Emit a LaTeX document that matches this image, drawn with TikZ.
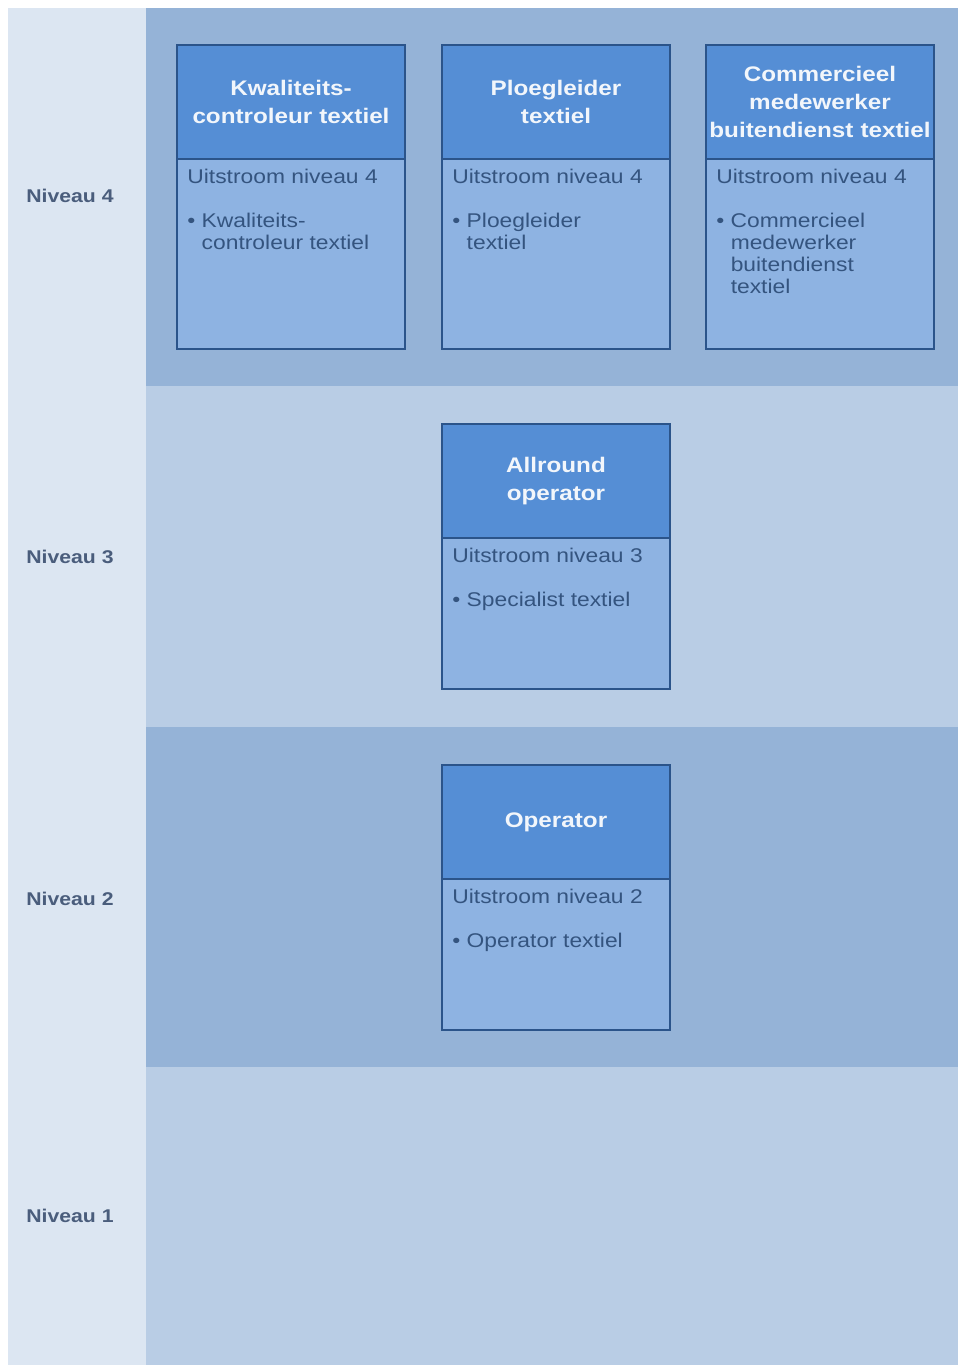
\documentclass[tikz,border=0pt]{standalone}
\usepackage{fontspec}
\setmainfont{Liberation Sans}[FakeStretch=1.15]
\usetikzlibrary{positioning}
\definecolor{zijkant}{HTML}{DCE6F2}
\definecolor{banddonker}{HTML}{95B3D7}
\definecolor{bandlicht}{HTML}{B9CDE5}
\definecolor{kopblauw}{HTML}{558ED5}
\definecolor{rompblauw}{HTML}{8EB3E2}
\definecolor{randblauw}{HTML}{2B548A}
\definecolor{koptekst}{HTML}{F2F6FB}
\definecolor{romptekst}{HTML}{34547F}
\definecolor{niveautekst}{HTML}{4A5D7C}
\tikzstyle{kop} = [rectangle, minimum width=4.56cm, minimum height=2.28cm, text width=4.5cm, inner xsep=0.03cm, align=center, draw=randblauw, line width=1.1pt, fill=kopblauw, text=koptekst, font=\fontsize{12}{16}\selectfont\bfseries]
\tikzstyle{romp} = [rectangle, minimum width=4.56cm, minimum height=3.8cm, draw=randblauw, line width=1.1pt, fill=rompblauw]
\tikzstyle{rompkort} = [romp, minimum height=3.02cm]
\tikzstyle{inhoud} = [anchor=north west, inner sep=0pt, align=left, xshift=0.22cm, yshift=-0.21cm, text=romptekst, font=\fontsize{11.3}{12.5}\selectfont]
\tikzstyle{niveau} = [anchor=west, inner sep=0pt, text=niveautekst, font=\fontsize{10.5}{12}\selectfont\bfseries]
\newcommand{\opsom}[1]{\textbullet\ \parbox[t]{3.9cm}{#1}}

\begin{document}
\begin{tikzpicture}[x=0.02cm, y=-0.02cm]
\useasboundingbox (0,0) rectangle (958,1365);

% achtergrond
\fill[zijkant] (8,8) rectangle (146,1365);
\fill[banddonker] (146,8) rectangle (958,386);
\fill[bandlicht] (146,386) rectangle (958,727);
\fill[banddonker] (146,727) rectangle (958,1067);
\fill[bandlicht] (146,1067) rectangle (958,1365);

\node (n4) [niveau] at (26,196) {Niveau 4};
\node (n3) [niveau] at (26,557) {Niveau 3};
\node (n2) [niveau] at (26,899) {Niveau 2};
\node (n1) [niveau] at (26,1216) {Niveau 1};

% niveau 4
\node (kwal) [kop] at (291,102) {Kwaliteits-\\controleur textiel};
\node (kwalromp) [romp, below=-1.1pt of kwal] {};
\node (kwaltekst) [inhoud] at (kwalromp.north west) {Uitstroom niveau 4\\[12.5pt]\opsom{Kwaliteits-\\controleur textiel}};

\node (ploeg) [kop] at (556,102) {Ploegleider\\textiel};
\node (ploegromp) [romp, below=-1.1pt of ploeg] {};
\node (ploegtekst) [inhoud] at (ploegromp.north west) {Uitstroom niveau 4\\[12.5pt]\opsom{Ploegleider\\textiel}};

\node (comm) [kop] at (820,102) {Commercieel\\medewerker\\buitendienst textiel};
\node (commromp) [romp, below=-1.1pt of comm] {};
\node (commtekst) [inhoud] at (commromp.north west) {Uitstroom niveau 4\\[12.5pt]\opsom{Commercieel\\medewerker\\buitendienst\\textiel}};

% niveau 3
\node (allround) [kop] at (556,481) {Allround\\operator};
\node (allromp) [rompkort, below=-1.1pt of allround] {};
\node (alltekst) [inhoud] at (allromp.north west) {Uitstroom niveau 3\\[12.5pt]\opsom{Specialist textiel}};

% niveau 2
\node (oper) [kop] at (556,822) {Operator};
\node (operromp) [rompkort, below=-1.1pt of oper] {};
\node (opertekst) [inhoud] at (operromp.north west) {Uitstroom niveau 2\\[12.5pt]\opsom{Operator textiel}};

\end{tikzpicture}
\end{document}
